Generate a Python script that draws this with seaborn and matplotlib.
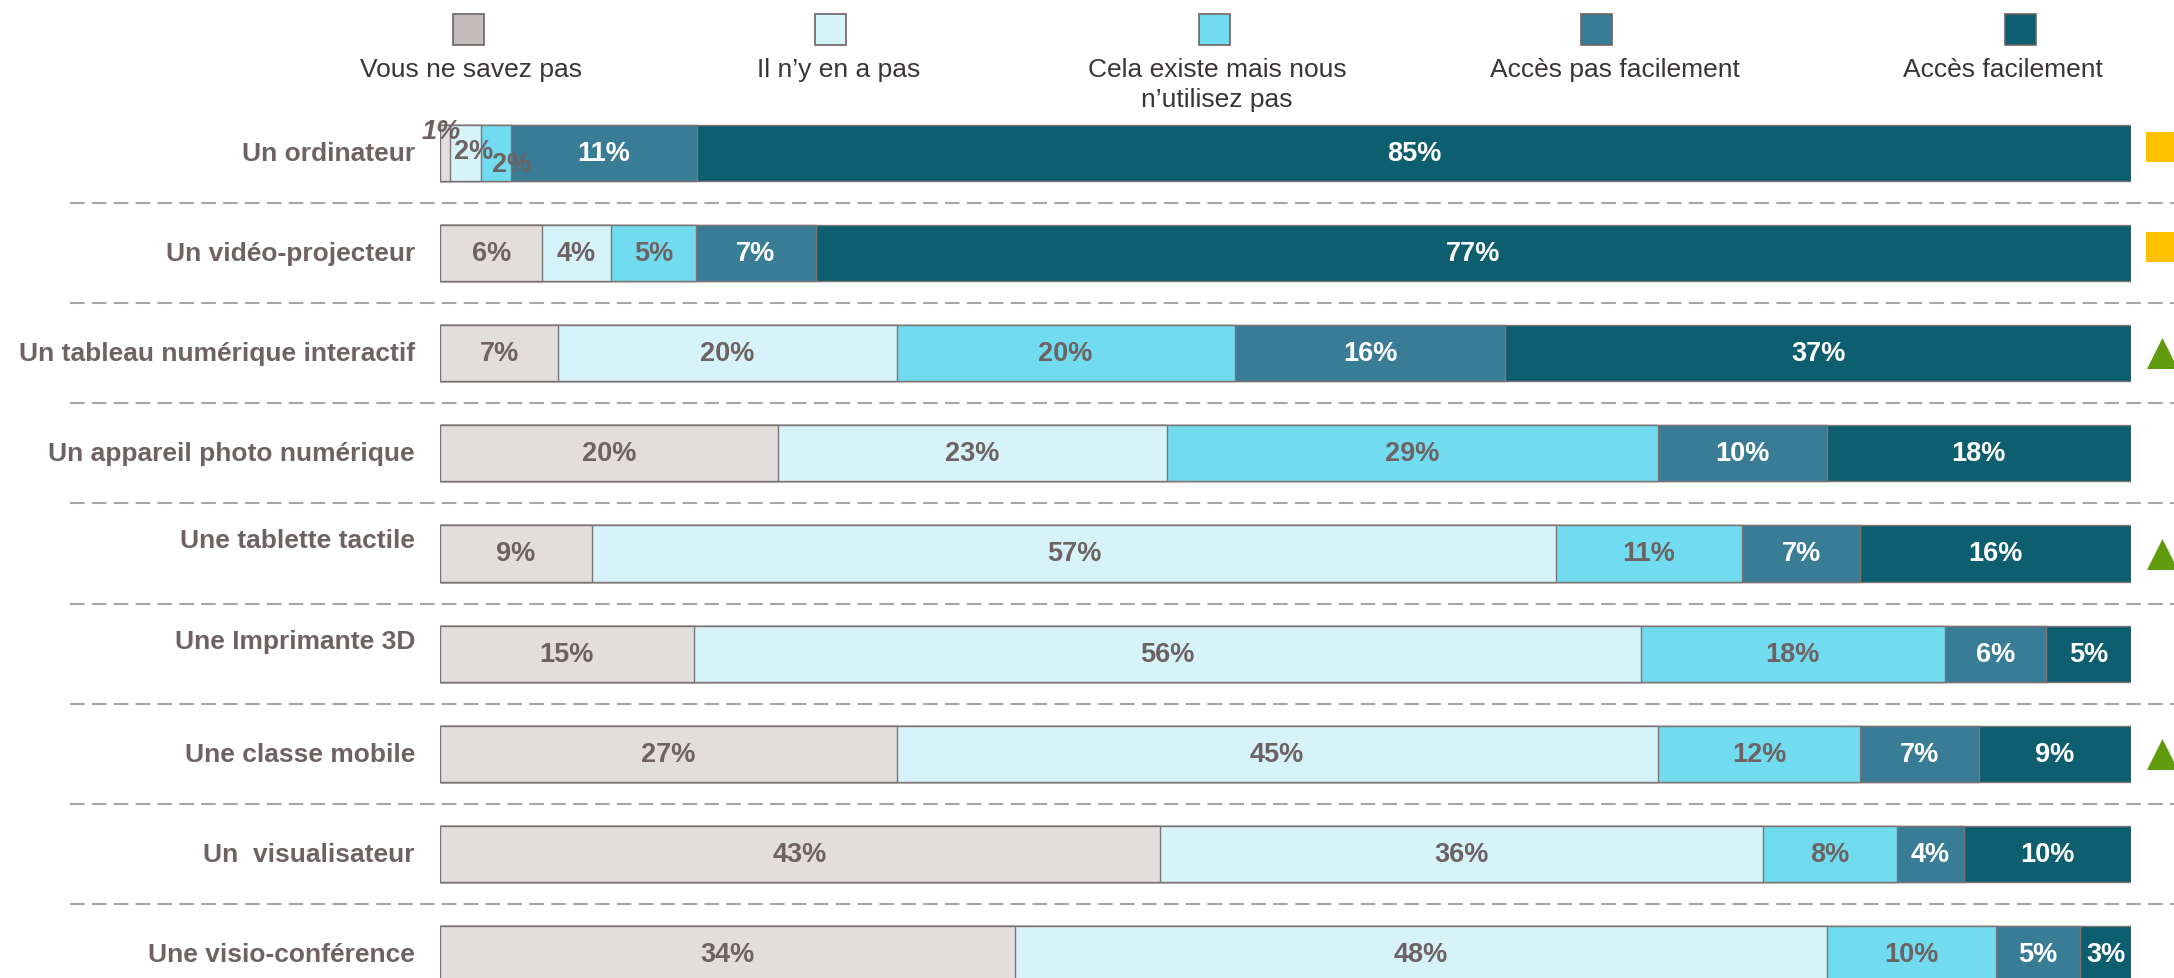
#!/usr/bin/env python3
"""
Stacked horizontal bars: access to digital equipment at school
"""

import numpy as np
import pandas as pd
import matplotlib
matplotlib.use("Agg")
import matplotlib.pyplot as plt
import seaborn as sns
from matplotlib.patches import Rectangle

# Data read off the chart (in %). First row measured from the bar widths,
# labels are the rounded values.
equipment = ["Un ordinateur", "Un vidéo-projecteur", "Un tableau numérique interactif",
             "Un appareil photo numérique", "Une tablette tactile", "Une Imprimante 3D",
             "Une classe mobile", "Un  visualisateur", "Une visio-conférence"]
answers = ["Vous ne savez pas", "Il n\u2019y en a pas", "Cela existe mais nous\nn\u2019utilisez pas",
           "Accès pas facilement", "Accès facilement"]
vous_ne_savez_pas = [0.6, 6, 7, 20, 9, 15, 27, 43, 34]
il_n_y_en_a_pas = [1.8, 4, 20, 23, 57, 56, 45, 36, 48]
existe_non_utilise = [1.8, 5, 20, 29, 11, 18, 12, 8, 10]
acces_pas_facile = [11.0, 7, 16, 10, 7, 6, 7, 4, 5]
acces_facile = [84.8, 77, 37, 18, 16, 5, 9, 10, 3]
# evolution sign shown right of each bar: "=" stable, "+" up, "" nothing
evolution = ["=", "=", "+", "", "+", "", "+", "", ""]

bar_colors = ["#E2DEDE", "#D7F3FA", "#71DCF0", "#387C96", "#0D5E6F"]
legend_colors = ["#C4BBBC", "#D7F3FA", "#71DCF0", "#387C96", "#0D5E6F"]
edge = "#7E7374"
text_dark = "#6E6263"

df = pd.DataFrame({
    answers[0]: vous_ne_savez_pas,
    answers[1]: il_n_y_en_a_pas,
    answers[2]: existe_non_utilise,
    answers[3]: acces_pas_facile,
    answers[4]: acces_facile,
}, index=equipment)
shares = df.div(df.sum(axis=1), axis=0)
cum = shares.cumsum(axis=1)

sns.set_theme(style="white")
plt.rcParams["font.family"] = ["Liberation Sans", "DejaVu Sans"]

W, H = 2174, 979
fig = plt.figure(figsize=(W / 100, H / 100), dpi=100)
ax = fig.add_axes([440 / W, 1 - 1005 / H, 1691 / W, 901 / H])

# stacked bars: draw cumulative totals from the longest to the shortest
for k in range(len(answers) - 1, -1, -1):
    sns.barplot(x=cum.iloc[:, k].values, y=equipment, orient="h",
                color=bar_colors[k], saturation=1, width=0.56,
                edgecolor=edge, linewidth=1.0, errorbar=None, ax=ax)

ax.set_xlim(0, 1)
ax.set_ylim(8.5, -0.5)
ax.set_axis_off()

# value labels
first_row_offsets = [(-2.9, 15.8), (5.8, 1.4), (11.2, -7.9)]
for i in range(len(equipment)):
    for k in range(len(answers)):
        val = df.iloc[i, k]
        xc = cum.iloc[i, k] - shares.iloc[i, k] / 2
        color = "white" if k >= 3 else text_dark
        off = (0, 0)
        style = "normal"
        if i == 0 and k < 3:
            off = first_row_offsets[k]
            style = "italic" if k == 0 else "normal"
        ax.annotate(f"{val:.0f}%", (xc, i), xytext=off, textcoords="offset points",
                    ha="center", va="center", fontsize=19.5, fontweight="bold",
                    color=color, fontstyle=style, annotation_clip=False)

# row labels (two of them sit a little higher in the original)
label_shift = [0, 0, 0, 0, -0.13, -0.13, 0, 0, 0]
for i, name in enumerate(equipment):
    ax.text(-0.0148, i + label_shift[i], name, ha="right", va="center",
            fontsize=19, fontweight="bold", color=text_dark)

# dashed separators
for i in range(len(equipment) - 1):
    ax.plot([-0.219, 1.03], [i + 0.5, i + 0.5], color="#A6A6A6", lw=1.5,
            linestyle=(0, (7, 3.5)), clip_on=False, zorder=0)

# evolution markers
for i, sign in enumerate(evolution):
    if sign == "=":
        ax.scatter([1.0177], [i - 0.06], marker="s", s=466, color="#FFC000",
                   linewidths=0, clip_on=False)
    elif sign == "+":
        ax.scatter([1.0183], [i], marker="^", s=497, color="#5E9C0E",
                   linewidths=0, clip_on=False)

# legend: swatch above each label
swatch_x = [468, 830, 1214, 1597, 2020]
text_x = [471, 839, 1217, 1615, 2003]
for k, lab in enumerate(answers):
    fig.add_artist(Rectangle(((swatch_x[k] - 15.5) / W, 1 - 46 / H), 31 / W, 31 / H,
                             transform=fig.transFigure, facecolor=legend_colors[k],
                             edgecolor=text_dark, lw=1.2))
    fig.text(text_x[k] / W, 1 - 58 / H, lab, ha="center", va="top", fontsize=19,
             color="#3A3536", linespacing=1.3)

plt.savefig("out.png", dpi=100)
